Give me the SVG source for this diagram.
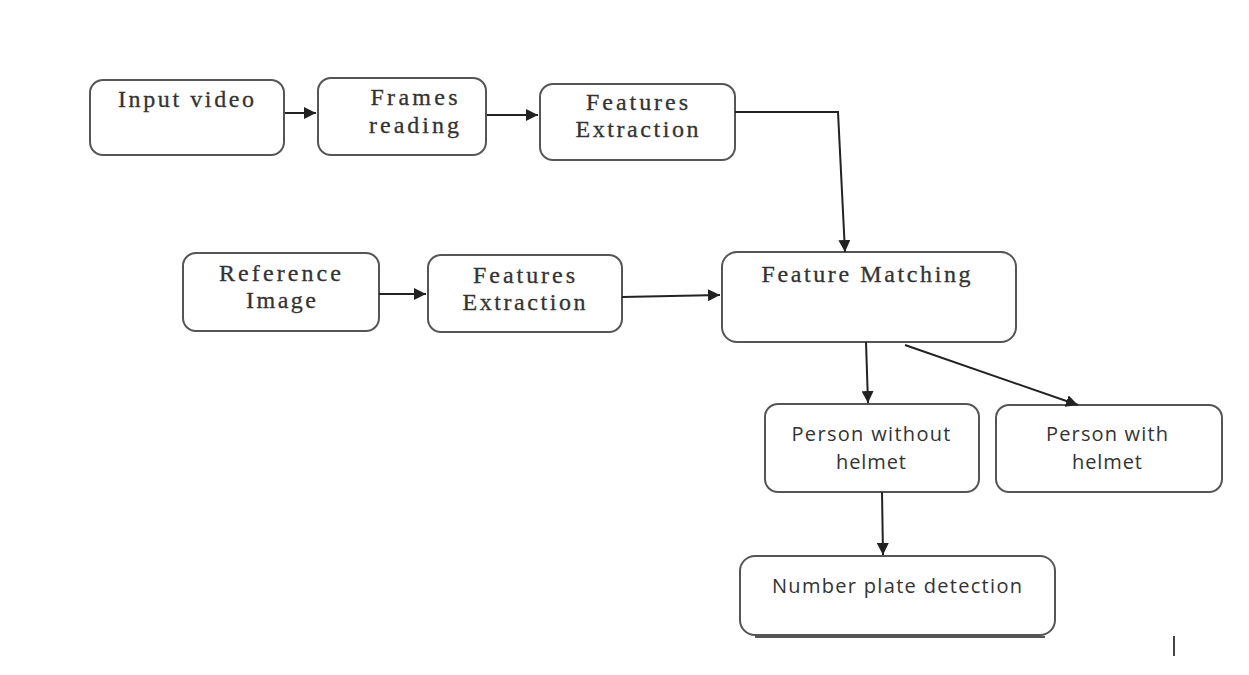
<svg xmlns="http://www.w3.org/2000/svg" width="1249" height="675" viewBox="0 0 1249 675">
<style>
.box{fill:#fff;stroke:#555;stroke-width:2}
.serif{font-family:"Liberation Serif","Times New Roman",serif;font-size:24px;fill:#333;text-anchor:middle;stroke:#333;stroke-width:0.3}
.sans{font-family:"Open Sans","Noto Sans",sans-serif;font-size:20px;fill:#333;text-anchor:middle}
.conn{stroke:#222;stroke-width:2;fill:none;marker-end:url(#ah)}
</style>
<defs>
<marker id="ah" viewBox="0 0 10 10" refX="10" refY="5" markerWidth="6" markerHeight="6" orient="auto" markerUnits="strokeWidth">
<path d="M0,0 L10,5 L0,10 z" fill="#222"/>
</marker>
</defs>
<rect width="1249" height="675" fill="#fff"/>
<g id="input-video"><rect class="box" x="90" y="80" width="194" height="75" rx="13"/><text class="serif" x="186" y="107" textLength="136" lengthAdjust="spacing">Input video</text></g>
<g id="frames-reading"><rect class="box" x="318" y="78" width="168" height="77" rx="13"/><text class="serif" x="414" y="105" textLength="87" lengthAdjust="spacing">Frames</text><text class="serif" x="414" y="133" textLength="90" lengthAdjust="spacing">reading</text></g>
<g id="features-extraction-1"><rect class="box" x="540" y="84" width="195" height="76" rx="13"/><text class="serif" x="637" y="110" textLength="102" lengthAdjust="spacing">Features</text><text class="serif" x="637" y="137" textLength="123" lengthAdjust="spacing">Extraction</text></g>
<g id="reference-image"><rect class="box" x="183" y="253" width="196" height="78" rx="13"/><text class="serif" x="280" y="281" textLength="122" lengthAdjust="spacing">Reference</text><text class="serif" x="281" y="308" textLength="70" lengthAdjust="spacing">Image</text></g>
<g id="features-extraction-2"><rect class="box" x="428" y="255" width="194" height="77" rx="13"/><text class="serif" x="524" y="283" textLength="102" lengthAdjust="spacing">Features</text><text class="serif" x="524" y="310" textLength="123" lengthAdjust="spacing">Extraction</text></g>
<g id="feature-matching"><rect class="box" x="722" y="252" width="294" height="90" rx="15"/><text class="serif" x="866" y="282" textLength="209" lengthAdjust="spacing">Feature Matching</text></g>
<g id="person-without-helmet"><rect class="box" x="765" y="404" width="214" height="88" rx="13"/><text class="sans" x="871" y="441" textLength="159" lengthAdjust="spacing">Person without</text><text class="sans" x="871" y="469" textLength="70" lengthAdjust="spacing">helmet</text></g>
<g id="person-with-helmet"><rect class="box" x="996" y="405" width="226" height="87" rx="13"/><text class="sans" x="1107" y="441" textLength="122" lengthAdjust="spacing">Person with</text><text class="sans" x="1107" y="469" textLength="70" lengthAdjust="spacing">helmet</text></g>
<g id="number-plate-detection"><path d="M755,637 L1045,637" stroke="#555" stroke-width="2"/><rect class="box" x="740" y="556" width="315" height="79" rx="15"/><text class="sans" x="897" y="593" textLength="250" lengthAdjust="spacing">Number plate detection</text></g>
<g id="connectors">
<path class="conn" d="M285,113 L316,113"/>
<path class="conn" d="M487,115 L538,115"/>
<path class="conn" d="M735,112 L838,112 L845,252"/>
<path class="conn" d="M379,294 L426,294"/>
<path class="conn" d="M622,297 L720,295"/>
<path class="conn" d="M866,342 L868,403"/>
<path class="conn" d="M905,345 L1078,405"/>
<path class="conn" d="M882,492 L883,555"/>
</g>
<path d="M1174,636 L1174,656" stroke="#444" stroke-width="2"/>
</svg>
